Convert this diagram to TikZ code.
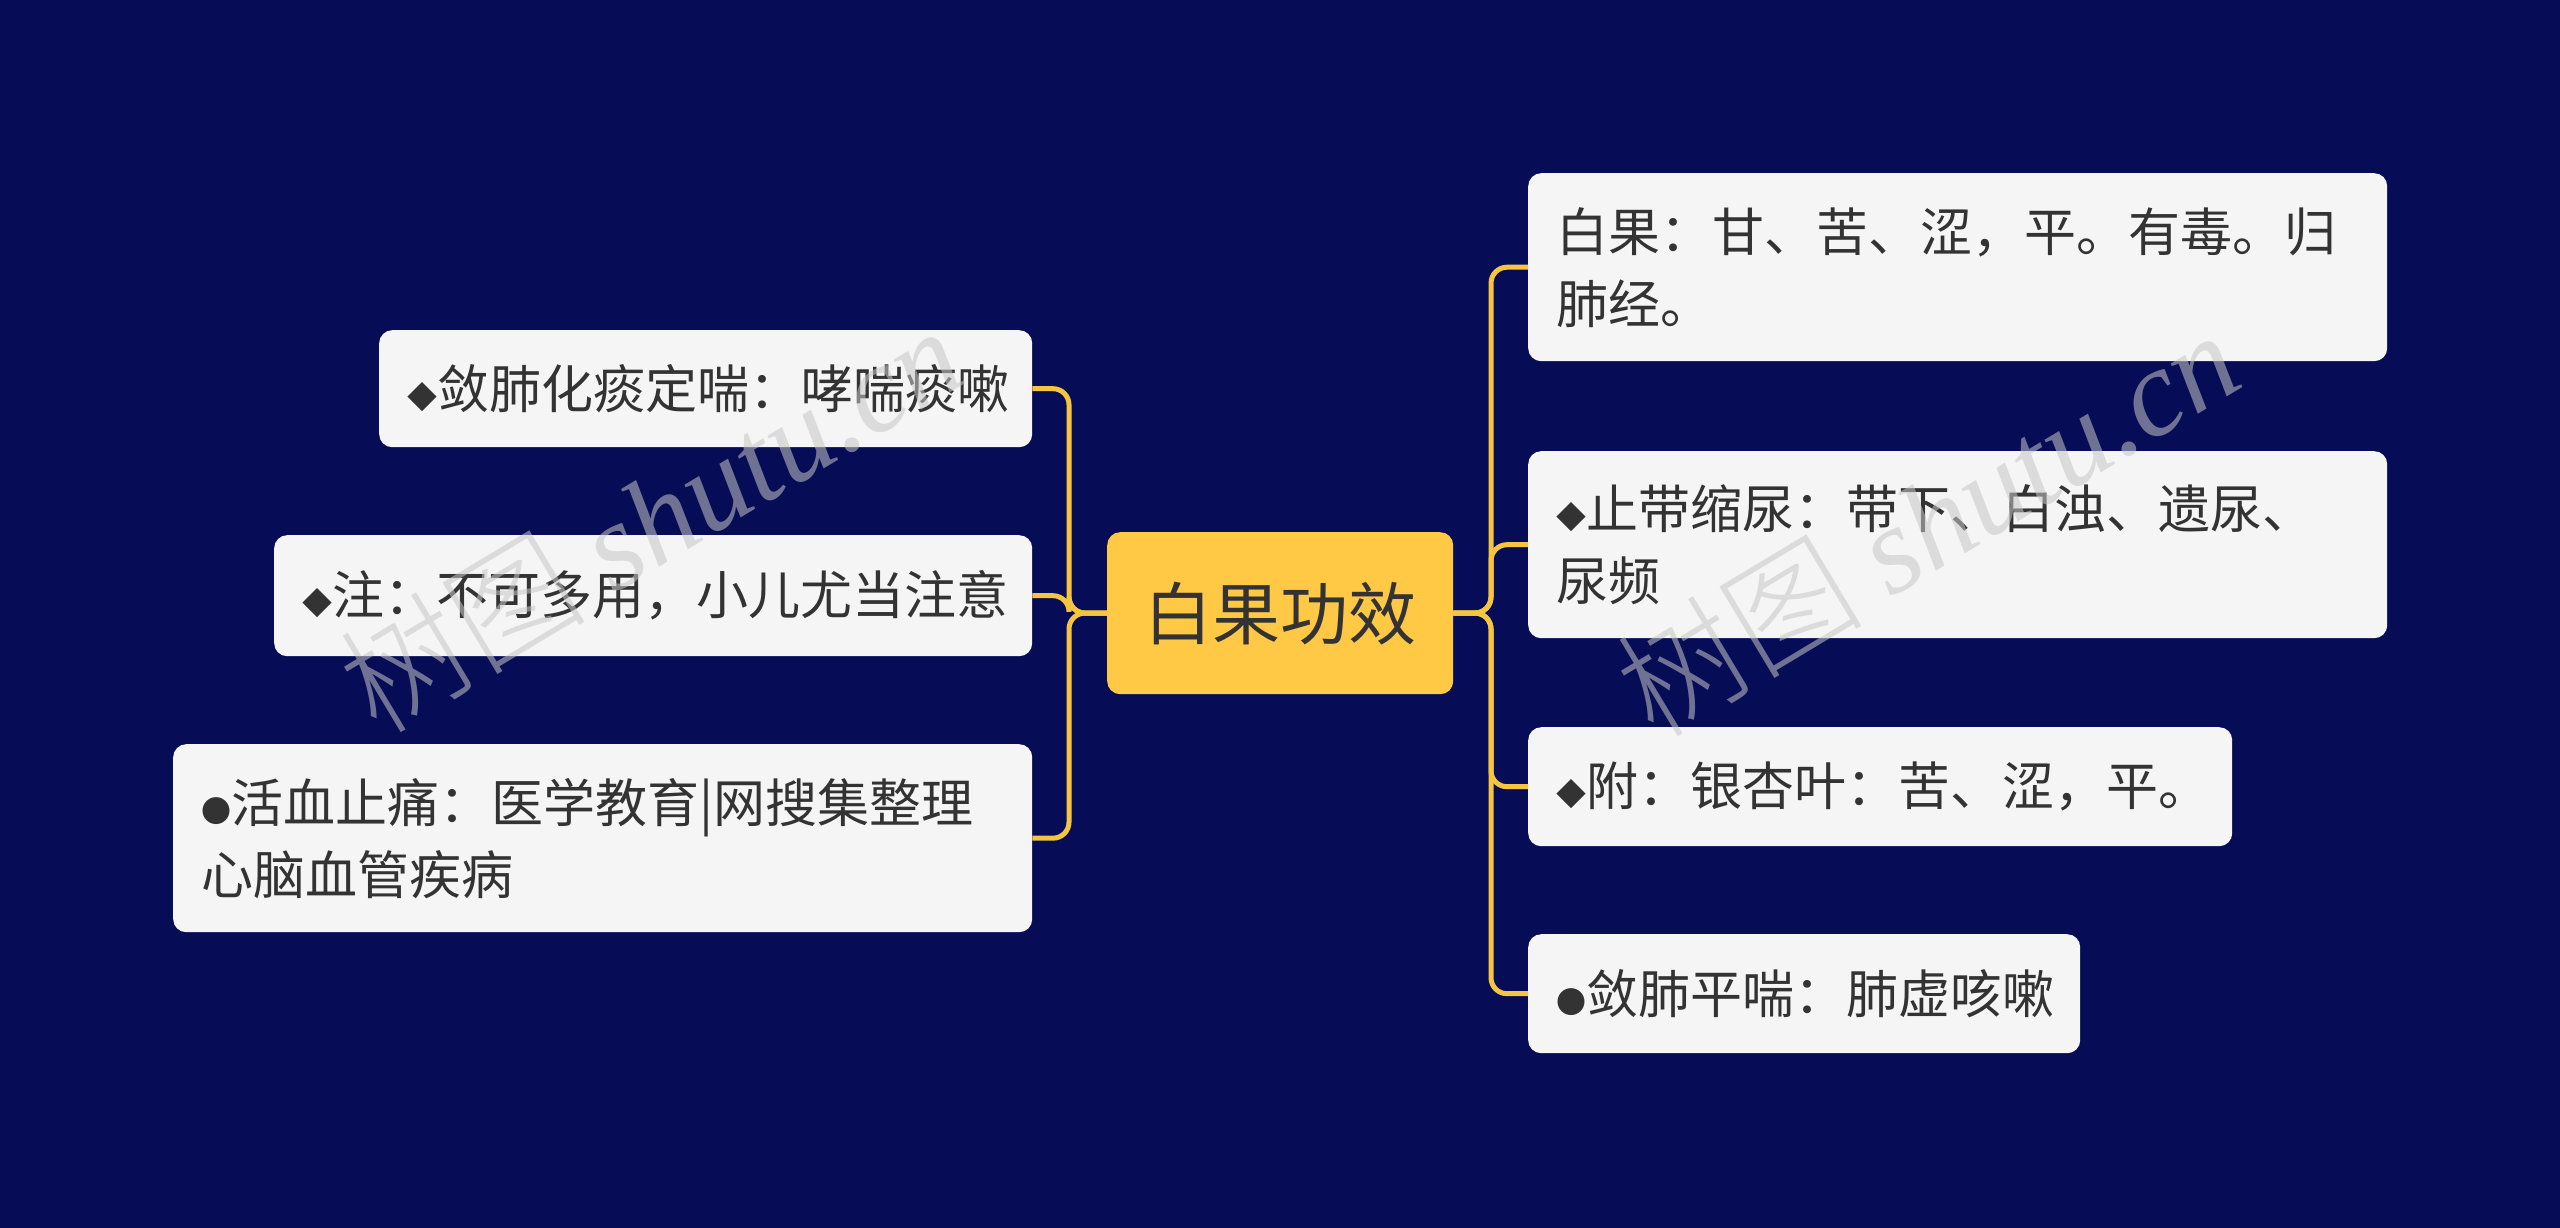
\documentclass[tikz,border=0pt]{standalone}
\usepackage{fontspec}
\setmainfont{Noto Sans CJK SC}
\newfontfamily\cjk{Noto Sans CJK SC}
\newfontfamily\wmcjk{Noto Sans CJK SC Light}
\newfontfamily\wmserif{Liberation Serif}
\definecolor{bg}{HTML}{070C57}
\definecolor{boxfill}{HTML}{F5F5F5}
\definecolor{txt}{HTML}{333333}
\definecolor{gold}{HTML}{FFC845}
\definecolor{linec}{HTML}{F5C542}
\newcommand{\mydia}{{\fontsize{30pt}{30pt}\selectfont ◆}}
\newcommand{\mydot}{{\fontsize{30pt}{30pt}\selectfont ●}}
\begin{document}
\begin{tikzpicture}[x=1pt,y=-1pt,
  leaf/.style={draw=none,fill=boxfill,rounded corners=13pt,inner xsep=28pt,inner ysep=0pt,
    align=left,text=txt,font=\fontsize{52pt}{72pt}\selectfont,anchor=north west},
  root/.style={fill=gold,rounded corners=13pt,text=txt,font=\fontsize{68pt}{80pt}\selectfont,
    minimum width=346pt,minimum height=162pt,anchor=north west,inner sep=0pt},
  conn/.style={draw=linec,line width=5pt,rounded corners=16pt},
  wm/.style={text=black!22,opacity=0.55,font=\fontsize{124pt}{124pt}\selectfont,rotate=31}]
\fill[bg] (0,0) rectangle (2560,1228);
\useasboundingbox (0,0) rectangle (2560,1228);

\node[root] (c) at (1107,532) {白果功效};

% left
\node[leaf,text width=597pt,minimum height=117pt] (l1) at (379,330) {\mydia 敛肺化痰定喘：哮喘痰嗽};
\node[leaf,text width=702pt,minimum height=121pt] (l2) at (274,535) {\mydia 注：不可多用，小儿尤当注意};
\node[leaf,text width=803pt,minimum height=188pt] (l3) at (173,744) {\mydot 活血止痛：医学教育|网搜集整理\\心脑血管疾病};

% right
\node[leaf,text width=803pt,minimum height=188pt] (r1) at (1528,173) {白果：甘、苦、涩，平。有毒。归\\肺经。};
\node[leaf,text width=803pt,minimum height=187pt] (r2) at (1528,451) {\mydia 止带缩尿：带下、白浊、遗尿、\\尿频};
\node[leaf,text width=648pt,minimum height=119pt] (r3) at (1528,727) {\mydia 附：银杏叶：苦、涩，平。};
\node[leaf,text width=496pt,minimum height=119pt] (r4) at (1528,934) {\mydot 敛肺平喘：肺虚咳嗽};

\coordinate (tl) at (1069,613);
\coordinate (tr) at (1491,613);

\foreach \n in {l1,l2,l3}{
  \draw[conn] (c.west) -- (tl) |- (\n.east);
}
\foreach \n in {r1,r2,r3,r4}{
  \draw[conn] (c.east) -- (tr) |- (\n.west);
}

% watermarks
\node[wm] (w1) at (650,518) {{\wmcjk 树图} {\wmserif\itshape shutu.cn}};
\node[wm] (w2) at (1927,522) {{\wmcjk 树图} {\wmserif\itshape shutu.cn}};
\end{tikzpicture}
\end{document}
